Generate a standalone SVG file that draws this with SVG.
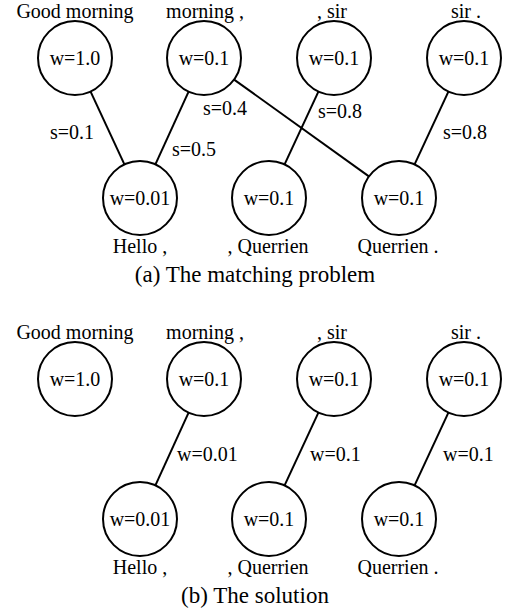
<svg xmlns="http://www.w3.org/2000/svg" width="505" height="616" viewBox="0 0 505 616" font-family="'Liberation Serif', 'DejaVu Serif', serif">
<style>
text{font-family:'Liberation Serif','DejaVu Serif',serif;font-size:20px;fill:#000}
.c{text-anchor:middle}
.cap{font-size:23px;text-anchor:middle}
circle{fill:#fff;stroke:#000;stroke-width:2}
line{stroke:#000;stroke-width:2}
</style>
<rect width="505" height="616" fill="#fff"/>
<g id="connectors">
<line x1="90.6" y1="91.6" x2="124.4" y2="164.4"/>
<line x1="188.6" y1="91.7" x2="155.4" y2="164.3"/>
<line x1="234.1" y1="79.6" x2="368.9" y2="176.4"/>
<line x1="318.4" y1="91.6" x2="284.6" y2="164.4"/>
<line x1="448.4" y1="91.6" x2="414.6" y2="164.4"/>
<text x="50" y="139">s=0.1</text>
<text x="172" y="156">s=0.5</text>
<text x="203" y="115">s=0.4</text>
<text x="318" y="118">s=0.8</text>
<text x="443" y="139">s=0.8</text>
<line x1="188.6" y1="412.7" x2="155.4" y2="485.3"/>
<line x1="318.4" y1="412.6" x2="284.6" y2="485.4"/>
<line x1="448.4" y1="412.6" x2="414.6" y2="485.4"/>
<text x="177" y="461">w=0.01</text>
<text x="310" y="461">w=0.1</text>
<text x="443" y="461">w=0.1</text>
</g>
<g id="a-good-morning"><text class="c" x="75" y="18">Good morning</text><circle cx="75" cy="58" r="37"/><text class="c" x="75" y="65">w=1.0</text></g>
<g id="a-morning"><text class="c" x="205" y="18">morning ,</text><circle cx="204" cy="58" r="37"/><text class="c" x="204" y="65">w=0.1</text></g>
<g id="a-sir1"><text class="c" x="332" y="18">, sir</text><circle cx="334" cy="58" r="37"/><text class="c" x="334" y="65">w=0.1</text></g>
<g id="a-sir2"><text class="c" x="466" y="18">sir .</text><circle cx="464" cy="58" r="37"/><text class="c" x="464" y="65">w=0.1</text></g>
<g id="a-hello"><circle cx="140" cy="198" r="37"/><text class="c" x="140" y="205">w=0.01</text><text class="c" x="140" y="253">Hello ,</text></g>
<g id="a-querrien1"><circle cx="269" cy="198" r="37"/><text class="c" x="269" y="205">w=0.1</text><text class="c" x="268" y="253">, Querrien</text></g>
<g id="a-querrien2"><circle cx="399" cy="198" r="37"/><text class="c" x="399" y="205">w=0.1</text><text class="c" x="398" y="253">Querrien .</text></g>
<text class="cap" x="255" y="282">(a) The matching problem</text>
<g id="b-good-morning"><text class="c" x="75" y="339">Good morning</text><circle cx="75" cy="379" r="37"/><text class="c" x="75" y="386">w=1.0</text></g>
<g id="b-morning"><text class="c" x="205" y="339">morning ,</text><circle cx="204" cy="379" r="37"/><text class="c" x="204" y="386">w=0.1</text></g>
<g id="b-sir1"><text class="c" x="332" y="339">, sir</text><circle cx="334" cy="379" r="37"/><text class="c" x="334" y="386">w=0.1</text></g>
<g id="b-sir2"><text class="c" x="466" y="339">sir .</text><circle cx="464" cy="379" r="37"/><text class="c" x="464" y="386">w=0.1</text></g>
<g id="b-hello"><circle cx="140" cy="519" r="37"/><text class="c" x="140" y="526">w=0.01</text><text class="c" x="140" y="574">Hello ,</text></g>
<g id="b-querrien1"><circle cx="269" cy="519" r="37"/><text class="c" x="269" y="526">w=0.1</text><text class="c" x="268" y="574">, Querrien</text></g>
<g id="b-querrien2"><circle cx="399" cy="519" r="37"/><text class="c" x="399" y="526">w=0.1</text><text class="c" x="398" y="574">Querrien .</text></g>
<text class="cap" x="255" y="603">(b) The solution</text>
</svg>
